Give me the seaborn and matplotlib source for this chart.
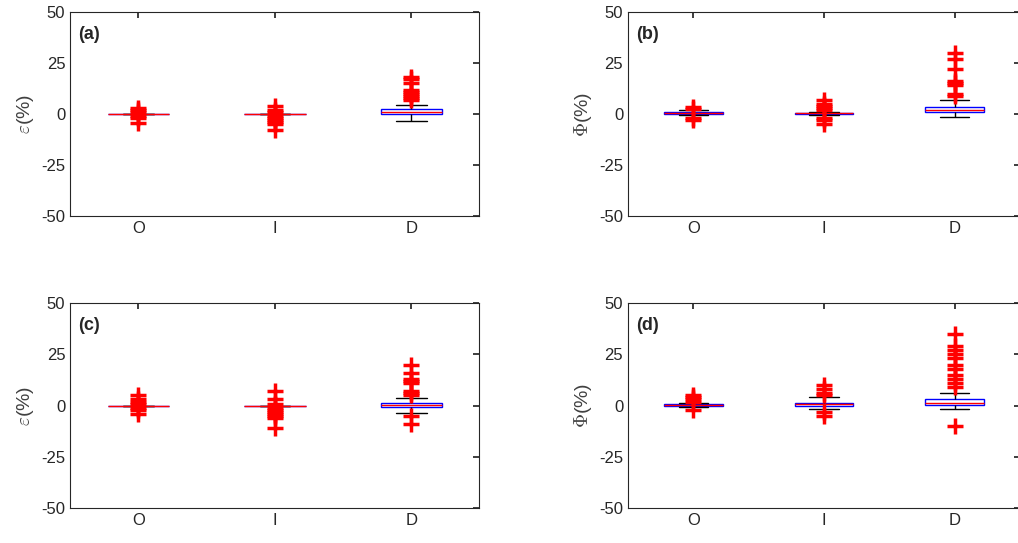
import matplotlib
matplotlib.use("Agg")
import matplotlib.pyplot as plt
import pandas as pd
import seaborn as sns

GROUPS = ["O", "I", "D"]

# panel (a): epsilon
A_O = [0] * 40 + [-4.5, -2, -1, 1, 2, 3]
A_I = [0] * 40 + [-8, -5, -4, -3, -2, -1, 1, 2, 4]
A_D = ([-3.5, -2, -1] + [0] * 20 + [0.3] * 10 + [1] * 10 + [2] * 8 + [2.5] * 12
       + [3, 3.5, 4, 4.5] + [7, 8, 9, 10, 11, 12, 15, 17, 18])
# panel (b): Phi
B_O = ([0] * 15 + [0.3] * 10 + [0.8] * 15 + [-0.5, 1.5]
       + [-3, -2, 2, 2.5, 3.5])
B_I = ([0] * 15 + [0.3] * 10 + [0.6] * 15 + [-0.5, 1.2]
       + [-5, -3, -2, 2, 3, 4, 5, 7])
B_D = ([-1.5, -1, -0.5] + [0.5] * 15 + [1] * 10 + [2] * 10 + [3] * 10 + [3.5] * 15
       + [5, 6, 7] + [9, 10, 14, 15, 16, 22, 27, 30])
# panel (c): epsilon
C_O = [0] * 40 + [-4, -2, -1, 1, 2, 3, 5]
C_I = [0] * 40 + [-11, -6, -5, -4, -3, -2, -1, 1, 3, 7]
C_D = ([-3.5, -2.5, -1.5] + [-0.5] * 15 + [0] * 10 + [0.3] * 10 + [1] * 10
       + [1.5] * 15 + [2.5, 3.5] + [-9, -5, 5, 6, 7, 11, 12, 13, 16, 20])
# panel (d): Phi
D_O = ([0] * 15 + [0.3] * 10 + [0.6] * 15 + [-0.5, 1.2]
       + [-2, 1.5, 2, 3, 4, 5])
D_I = ([-1.5, -1] + [-0.2] * 15 + [0.5] * 10 + [1] * 10 + [1.5] * 15 + [2, 3]
       + [-5, -3, 4, 5, 6, 8, 10])
D_D = ([-1.5, -1] + [0] * 15 + [0.5] * 10 + [1] * 10 + [2] * 10 + [3] * 15
       + [4.5, 6] + [-10, 9, 11, 13, 15, 18, 20, 23, 25, 27, 29, 35])

PANELS = [
    ("(a)", r"$\varepsilon$(%)", [A_O, A_I, A_D]),
    ("(b)", r"$\Phi$(%)", [B_O, B_I, B_D]),
    ("(c)", r"$\varepsilon$(%)", [C_O, C_I, C_D]),
    ("(d)", r"$\Phi$(%)", [D_O, D_I, D_D]),
]
POSITIONS = [
    [0.069, 0.602, 0.402, 0.376],
    [0.617, 0.602, 0.385, 0.376],
    [0.069, 0.064, 0.402, 0.378],
    [0.617, 0.064, 0.385, 0.378],
]

sns.set_theme(style="white")
plt.rcParams["font.family"] = ["Liberation Sans", "DejaVu Sans"]
plt.rcParams["mathtext.fontset"] = "cm"
plt.rcParams["axes.unicode_minus"] = False

fig = plt.figure(figsize=(10.18, 5.43), dpi=100)
for (label, ylabel, groups), pos in zip(PANELS, POSITIONS):
    ax = fig.add_axes(pos)
    df = pd.DataFrame({
        "group": [g for g, vals in zip(GROUPS, groups) for _ in vals],
        "value": [v for vals in groups for v in vals],
    })
    sns.boxplot(
        data=df, x="group", y="value", order=GROUPS, ax=ax, width=0.45,
        color="white", linecolor="blue", linewidth=1,
        whiskerprops=dict(color="black", linestyle="-"),
        capprops=dict(color="black"),
        medianprops=dict(color="red"),
        flierprops=dict(marker="+", markersize=12, markeredgewidth=2.5,
                        markeredgecolor="red"),
    )
    ax.set_ylim(-50, 50)
    ax.set_yticks([-50, -25, 0, 25, 50])
    ax.set_xlabel("")
    ax.set_ylabel(ylabel, fontsize=14, color="#404040")
    ax.tick_params(direction="in", labelsize=12, top=True, right=True,
                   length=4, colors="#262626")
    for sp in ax.spines.values():
        sp.set_color("#262626")
        sp.set_linewidth(0.8)
    ax.text(0.02, 0.93, label, transform=ax.transAxes, fontsize=13,
            fontweight="bold", va="top")

fig.savefig("out.png", dpi=100)
